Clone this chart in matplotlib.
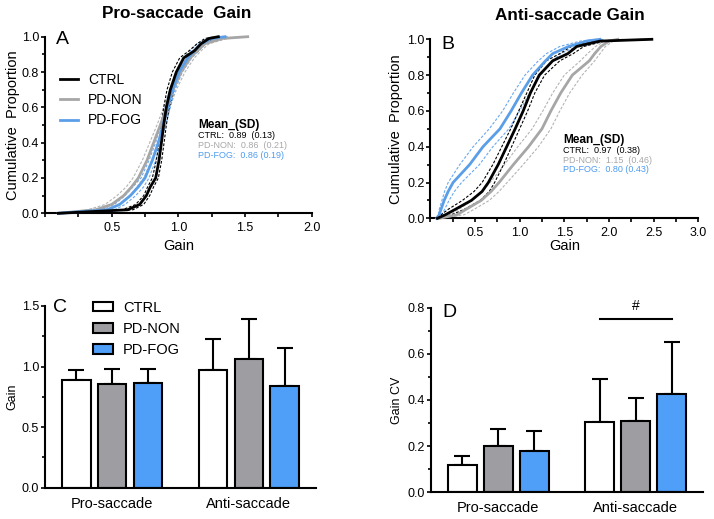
import matplotlib
matplotlib.use("Agg")
import matplotlib.pyplot as plt
from matplotlib.ticker import MultipleLocator, FormatStrFormatter
from matplotlib.patches import Patch
from matplotlib.lines import Line2D
import numpy as np

plt.rcParams['font.family'] = ['Liberation Sans', 'DejaVu Sans']

groups = ["CTRL", "PD-NON", "PD-FOG"]
tasks = ["Pro-saccade", "Anti-saccade"]

# cumulative proportion levels and gain quantiles
P = [0, .02, .05, .1, .15, .2, .3, .4, .5, .6, .7, .8, .88, .92, .96, .99, 1.0]

A_ctrl    = [0.10, 0.62, 0.71, 0.76, 0.79, 0.83, 0.855, 0.873, 0.89, 0.91, 0.94, 0.985, 1.04, 1.12, 1.17, 1.23, 1.30]
A_ctrl_lo = [0.10, 0.58, 0.68, 0.74, 0.77, 0.805, 0.835, 0.855, 0.872, 0.89, 0.915, 0.955, 1.01, 1.08, 1.14, 1.20, 1.28]
A_ctrl_hi = [0.12, 0.66, 0.74, 0.785, 0.815, 0.85, 0.875, 0.893, 0.91, 0.932, 0.965, 1.015, 1.075, 1.15, 1.20, 1.26, 1.32]
A_non     = [0.10, 0.38, 0.50, 0.59, 0.65, 0.70, 0.765, 0.815, 0.865, 0.913, 0.96, 1.02, 1.09, 1.14, 1.20, 1.33, 1.52]
A_non_lo  = [0.10, 0.32, 0.45, 0.54, 0.61, 0.66, 0.73, 0.785, 0.84, 0.89, 0.935, 0.99, 1.06, 1.11, 1.17, 1.29, 1.50]
A_non_hi  = [0.12, 0.44, 0.55, 0.64, 0.69, 0.74, 0.80, 0.845, 0.89, 0.935, 0.985, 1.05, 1.12, 1.17, 1.23, 1.37, 1.52]
A_fog     = [0.10, 0.47, 0.56, 0.64, 0.70, 0.75, 0.805, 0.85, 0.885, 0.92, 0.955, 1.005, 1.07, 1.12, 1.17, 1.25, 1.35]
A_fog_lo  = [0.10, 0.42, 0.52, 0.60, 0.66, 0.72, 0.78, 0.83, 0.865, 0.90, 0.935, 0.98, 1.04, 1.09, 1.14, 1.22, 1.33]
A_fog_hi  = [0.12, 0.52, 0.60, 0.68, 0.74, 0.78, 0.83, 0.87, 0.905, 0.94, 0.975, 1.03, 1.10, 1.15, 1.20, 1.28, 1.37]

B_ctrl    = [0.08, 0.17, 0.28, 0.46, 0.58, 0.65, 0.76, 0.855, 0.95, 1.04, 1.12, 1.22, 1.37, 1.54, 1.64, 1.90, 2.48]
B_ctrl_lo = [0.08, 0.12, 0.20, 0.36, 0.49, 0.58, 0.70, 0.80, 0.90, 0.99, 1.08, 1.17, 1.30, 1.45, 1.58, 1.80, 2.40]
B_ctrl_hi = [0.10, 0.24, 0.38, 0.56, 0.66, 0.72, 0.82, 0.91, 1.00, 1.09, 1.17, 1.28, 1.45, 1.60, 1.72, 1.95, 2.50]
B_non     = [0.10, 0.30, 0.40, 0.57, 0.68, 0.77, 0.93, 1.10, 1.25, 1.35, 1.46, 1.59, 1.78, 1.84, 1.91, 2.00, 2.10]
B_non_lo  = [0.10, 0.22, 0.32, 0.47, 0.58, 0.67, 0.83, 0.98, 1.14, 1.26, 1.37, 1.50, 1.68, 1.76, 1.85, 1.95, 2.05]
B_non_hi  = [0.12, 0.38, 0.49, 0.66, 0.77, 0.86, 1.04, 1.21, 1.35, 1.45, 1.56, 1.70, 1.84, 1.90, 1.96, 2.05, 2.15]
B_fog     = [0.07, 0.10, 0.12, 0.155, 0.20, 0.255, 0.44, 0.59, 0.78, 0.905, 1.02, 1.145, 1.29, 1.37, 1.55, 1.75, 1.90]
B_fog_lo  = [0.07, 0.09, 0.10, 0.13, 0.16, 0.20, 0.33, 0.48, 0.66, 0.81, 0.93, 1.06, 1.21, 1.30, 1.45, 1.68, 1.85]
B_fog_hi  = [0.09, 0.13, 0.16, 0.21, 0.27, 0.35, 0.55, 0.70, 0.88, 1.00, 1.11, 1.23, 1.37, 1.46, 1.64, 1.82, 1.95]

A_mean = ["0.89", "0.86", "0.86"]
A_sd = ["0.13", "0.21", "0.19"]
B_mean = ["0.97", "1.15", "0.80"]
B_sd = ["0.38", "0.46", "0.43"]

# bar charts (mean and upper SD)
gain_mean = {"CTRL": [0.889, 0.972], "PD-NON": [0.853, 1.062], "PD-FOG": [0.862, 0.842]}
gain_sd   = {"CTRL": [0.083, 0.258], "PD-NON": [0.130, 0.334], "PD-FOG": [0.115, 0.308]}
cv_mean   = {"CTRL": [0.118, 0.305], "PD-NON": [0.201, 0.309], "PD-FOG": [0.179, 0.426]}
cv_sd     = {"CTRL": [0.041, 0.186], "PD-NON": [0.072, 0.101], "PD-FOG": [0.087, 0.225]}

line_col = {"CTRL": "black", "PD-NON": "#a6a6a6", "PD-FOG": "#5b9ee8"}
band_col = {"CTRL": "black", "PD-NON": "#b4b4b4", "PD-FOG": "#6aa8f0"}
text_col = {"CTRL": "black", "PD-NON": "#a8a8a8", "PD-FOG": "#4f9cf0"}
bar_col = {"CTRL": "white", "PD-NON": "#9e9ea2", "PD-FOG": "#4f9ef8"}

W, H = 714, 519
fig = plt.figure(figsize=(W / 100, H / 100), dpi=100)

def ax_px(l, r, t, b):
    return fig.add_axes([l / W, 1 - b / H, (r - l) / W, (b - t) / H])

def style(ax, tick_fs):
    for s in ["top", "right"]:
        ax.spines[s].set_visible(False)
    for s in ["left", "bottom"]:
        ax.spines[s].set_linewidth(1.5)
    ax.tick_params(which="both", direction="out", width=1.2, labelsize=tick_fs, color="black")
    ax.tick_params(axis="y", which="major", length=3, pad=1.2)
    ax.tick_params(axis="y", which="minor", length=2)
    ax.tick_params(axis="x", which="both", length=3, pad=3.5)

axA = ax_px(45, 311.7, 36.7, 213.3)
axB = ax_px(430.3, 698.3, 39.3, 218.3)
axC = ax_px(45, 316, 306, 487.7)
axD = ax_px(431, 703, 307.7, 492.3)

curves = {
    axA: {"CTRL": (A_ctrl, A_ctrl_lo, A_ctrl_hi), "PD-NON": (A_non, A_non_lo, A_non_hi),
          "PD-FOG": (A_fog, A_fog_lo, A_fog_hi)},
    axB: {"CTRL": (B_ctrl, B_ctrl_lo, B_ctrl_hi), "PD-NON": (B_non, B_non_lo, B_non_hi),
          "PD-FOG": (B_fog, B_fog_lo, B_fog_hi)},
}
for ax, cd in curves.items():
    for g in ["PD-NON", "PD-FOG", "CTRL"]:
        mid, lo, hi = cd[g]
        for b in (lo, hi):
            ax.plot(b, P, color=band_col[g], lw=0.8, ls=(0, (2.5, 1.5)), clip_on=False, zorder=2)
        ax.plot(mid, P, color=line_col[g], lw=2.0, clip_on=False, zorder=3, label=g)
    ax.set_ylim(0, 1.0)
    style(ax, 9)
    ax.yaxis.set_major_locator(MultipleLocator(0.2))
    ax.yaxis.set_minor_locator(MultipleLocator(0.1))
    ax.yaxis.set_major_formatter(FormatStrFormatter("%.1f"))
    ax.xaxis.set_major_locator(MultipleLocator(0.5))
    ax.xaxis.set_minor_locator(MultipleLocator(0.25))
    ax.xaxis.set_major_formatter(FormatStrFormatter("%.1f"))
    ax.set_ylabel("Cumulative  Proportion", fontsize=10.5)
    ax.set_xlabel("Gain", fontsize=10.5)

axA.set_xlim(0, 2.0)
axA.set_xticks([0.5, 1.0, 1.5, 2.0])
axB.set_xlim(0, 3.0)
axB.set_xticks([0.5, 1.0, 1.5, 2.0, 2.5, 3.0])
axA.yaxis.set_label_coords(-0.094, 0.5)
axB.yaxis.set_label_coords(-0.102, 0.5)
axA.xaxis.set_label_coords(0.5, -0.146)
axB.xaxis.set_label_coords(0.5, -0.116)

handles = [Line2D([], [], color=line_col[g], lw=2.0) for g in groups]
axA.legend(handles, groups, loc="upper left", bbox_to_anchor=(0.057, 0.795), frameon=False,
           fontsize=10, handlelength=1.3, handletextpad=0.7, labelspacing=0.45,
           borderpad=0, borderaxespad=0)

fig.text(177 / W, 1 - 14 / H, "Pro-saccade  Gain", fontsize=12.3, fontweight="bold",
         ha="center", va="center")
fig.text(570 / W, 1 - 15 / H, "Anti-saccade Gain", fontsize=12.3, fontweight="bold",
         ha="center", va="center")

def mean_block(x, ys, means, sds):
    fig.text(x / W, 1 - ys[0] / H, "Mean_(SD)", fontsize=8.6, fontweight="bold", va="baseline")
    for i, g in enumerate(groups):
        if g == "PD-FOG":
            s = f"{g}:  {means[i]} ({sds[i]})"
        else:
            s = f"{g}:  {means[i]}  ({sds[i]})"
        fig.text(x / W, 1 - ys[i + 1] / H, s, fontsize=6.5, color=text_col[g], va="baseline")

mean_block(198.3, [128, 138.5, 148, 157.5], A_mean, A_sd)
mean_block(563.3, [143, 153.5, 163, 172.5], B_mean, B_sd)

# bar charts
x = np.arange(len(tasks))
width = 0.21
offs = [-0.262, 0.0, 0.262]
for ax, m, sd in [(axC, gain_mean, gain_sd), (axD, cv_mean, cv_sd)]:
    for i, g in enumerate(groups):
        xs = x + offs[i]
        ax.bar(xs, m[g], width, color=bar_col[g], edgecolor="black", linewidth=1.5, zorder=2, label=g)
        ax.errorbar(xs, m[g], yerr=[np.zeros(len(tasks)), sd[g]], fmt="none", ecolor="black",
                    elinewidth=1.5, capsize=6, capthick=1.5, zorder=1)
    style(ax, 9)
    ax.set_xlim(-0.49, 1.49)
    ax.set_xticks(x)
    ax.set_xticklabels(tasks, fontsize=10.5)
    ax.tick_params(axis="x", length=0, pad=6.5)
    ax.yaxis.set_major_formatter(FormatStrFormatter("%.1f"))

axC.set_ylim(0, 1.5)
axC.yaxis.set_major_locator(MultipleLocator(0.5))
axC.yaxis.set_minor_locator(MultipleLocator(0.25))
axC.set_ylabel("Gain", fontsize=9)
axC.yaxis.set_label_coords(-0.1, 0.5)
axD.set_ylim(0, 0.8)
axD.yaxis.set_major_locator(MultipleLocator(0.2))
axD.yaxis.set_minor_locator(MultipleLocator(0.1))
axD.set_ylabel("Gain CV", fontsize=9)
axD.yaxis.set_label_coords(-0.103, 0.5)

bh = [Patch(facecolor=bar_col[g], edgecolor="black", linewidth=1.5) for g in groups]
axC.legend(bh, groups, loc="upper left", bbox_to_anchor=(0.177, 1.03), frameon=False,
           fontsize=10.5, handlelength=1.35, handleheight=0.65, handletextpad=0.7,
           labelspacing=0.5, borderpad=0, borderaxespad=0)

# significance marker
axD.plot([1 + offs[0], 1 + offs[2]], [0.75, 0.75], color="black", lw=1.5)
axD.text(1.0, 0.775, "#", ha="center", va="bottom", fontsize=10)

for ax, lab, xx, yy in [(axA, "A", 0.041, 1.03), (axB, "B", 0.042, 1.02),
                        (axC, "C", 0.031, 1.04), (axD, "D", 0.043, 1.02)]:
    ax.text(xx, yy, lab, transform=ax.transAxes, fontsize=14, ha="left", va="top")

fig.savefig("out.png", dpi=100)
